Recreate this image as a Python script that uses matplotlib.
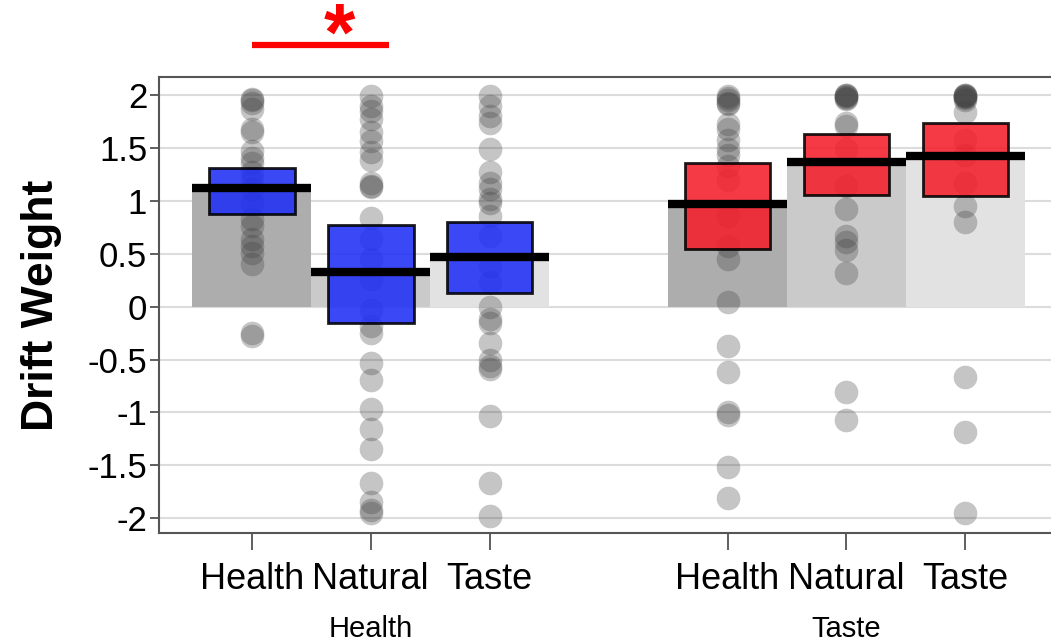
import numpy as np
import matplotlib
matplotlib.use("Agg")
import matplotlib.pyplot as plt

plt.rcParams['font.family'] = ['Liberation Sans', 'DejaVu Sans']

# conditions (attribute weighted) within each instruction group
groups = ['Health', 'Taste']
attributes = ['Health', 'Natural', 'Taste']
positions = [0, 1, 2, 4, 5, 6]

# group means and confidence limits
means = [1.12, 0.33, 0.47, 0.97, 1.37, 1.42]
ci_low = [0.88, -0.15, 0.13, 0.55, 1.06, 1.05]
ci_high = [1.31, 0.77, 0.80, 1.36, 1.63, 1.74]

# individual subject drift weights
pts_health_health = [1.96, 1.95, 1.93, 1.87, 1.68, 1.65, 1.47, 1.41, 1.36, 1.27, 1.20,
                     1.11, 0.98, 0.83, 0.76, 0.64, 0.57, 0.51, 0.40, -0.25, -0.28]
pts_health_natural = [1.99, 1.90, 1.85, 1.77, 1.65, 1.57, 1.46, 1.39, 1.17, 1.14, 1.13,
                      0.84, 0.64, 0.45, 0.26, -0.03, -0.18, -0.25, -0.53, -0.69, -0.97,
                      -1.16, -1.35, -1.67, -1.85, -1.92, -1.95]
pts_health_taste = [1.99, 1.90, 1.80, 1.74, 1.49, 1.27, 1.17, 1.11, 1.02, 0.98, 0.86,
                    0.67, 0.38, 0.23, 0.00, -0.12, -0.15, -0.34, -0.50, -0.56, -0.59,
                    -1.03, -1.67, -1.98]
pts_taste_health = [1.99, 1.97, 1.95, 1.93, 1.92, 1.73, 1.68, 1.58, 1.49, 1.43, 1.33,
                    1.20, 0.86, 0.57, 0.45, 0.04, -0.37, -0.62, -1.00, -1.02, -1.52, -1.81]
pts_taste_natural = [2.00, 2.00, 1.99, 1.98, 1.97, 1.96, 1.74, 1.71, 1.49, 1.14, 0.92,
                     0.67, 0.61, 0.54, 0.32, -0.81, -1.07]
pts_taste_taste = [2.00, 2.00, 1.99, 1.99, 1.98, 1.97, 1.95, 1.84, 1.58, 1.43, 1.17,
                   0.95, 0.80, -0.66, -1.18, -1.95]
points = [pts_health_health, pts_health_natural, pts_health_taste,
          pts_taste_health, pts_taste_natural, pts_taste_taste]

bar_grays = ['#adadad', '#cacaca', '#e2e2e2', '#adadad', '#cacaca', '#e2e2e2']
box_colors = ['#1f2ff5'] * 3 + ['#f41f2b'] * 3

fig = plt.figure(figsize=(10.51, 6.43), dpi=100)
ax = fig.add_axes([0.1513, 0.171, 0.8487, 0.709])

ax.set_xlim(-0.78, 6.72)
ax.set_ylim(-2.14, 2.17)

yticks = [-2, -1.5, -1, -0.5, 0, 0.5, 1, 1.5, 2]
for yv in yticks:
    ax.axhline(yv, color='#dcdcdc', lw=1.5, zorder=0)

# mean bars
ax.bar(positions, means, width=1.0, color=bar_grays, zorder=1)

# subject points
for p, vals in zip(positions, points):
    ax.scatter([p] * len(vals), vals, s=290, color='#404040', alpha=0.3,
               linewidths=0, zorder=2)

# confidence boxes
heights = [h - l for h, l in zip(ci_high, ci_low)]
ax.bar(positions, heights, bottom=ci_low, width=0.72, color=box_colors,
       alpha=0.88, edgecolor='black', linewidth=2, zorder=3)

# mean lines
for p, m in zip(positions, means):
    ax.plot([p - 0.5, p + 0.5], [m, m], color='black', lw=6,
            solid_capstyle='butt', zorder=4)

ax.set_yticks(yticks)
ax.set_yticklabels(['-2', '-1.5', '-1', '-0.5', '0', '0.5', '1', '1.5', '2'])
ax.set_xticks(positions)
ax.set_xticklabels(attributes * 2)
ax.tick_params(axis='y', labelsize=25, length=6.5, width=1.2, color='#444444', pad=2)
ax.tick_params(axis='x', labelsize=26, length=12, width=1.2, color='#444444', pad=9)

for side in ['left', 'bottom', 'top']:
    ax.spines[side].set_color('#555555')
    ax.spines[side].set_linewidth(1.5)
ax.spines['right'].set_visible(False)

ax.set_ylabel('Drift Weight', fontsize=32, fontweight='bold', labelpad=18)

for x, g in zip([1, 5], groups):
    ax.text(x, -0.21, g, transform=ax.get_xaxis_transform(), ha='center',
            va='center', fontsize=21)

# significance marker
ax.plot([0.0, 1.15], [2.47, 2.47], color='#ff0000', lw=4.5, clip_on=False,
        solid_capstyle='butt')
ax.text(0.74, 2.34, '*', color='#ff0000', fontsize=58, fontweight='bold',
        ha='center', va='baseline', clip_on=False)

fig.savefig('out.png', dpi=100)
